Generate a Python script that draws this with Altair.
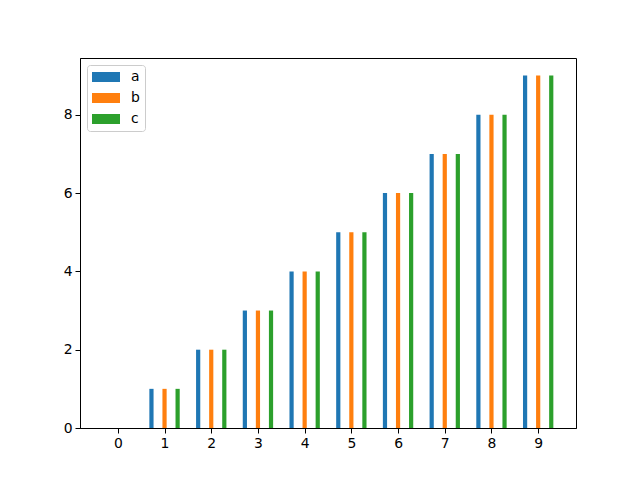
import altair as alt
import pandas as pd

positions = [0, 1, 2, 3, 4, 5, 6, 7, 8, 9]
series_a = [0, 1, 2, 3, 4, 5, 6, 7, 8, 9]
series_b = [0, 1, 2, 3, 4, 5, 6, 7, 8, 9]
series_c = [0, 1, 2, 3, 4, 5, 6, 7, 8, 9]
series_names = ["a", "b", "c"]
colors = ["#1f77b4", "#ff7f0e", "#2ca02c"]

# bar offset from the tick and half bar width, in x units
offsets = {"a": -0.28, "b": 0.0, "c": 0.28}
half_w = 0.045

rows = []
for name, vals in zip(series_names, [series_a, series_b, series_c]):
    for p, v in zip(positions, vals):
        rows.append({"pos": p, "value": v, "series": name,
                     "x1": p + offsets[name] - half_w,
                     "x2": p + offsets[name] + half_w})
source = pd.DataFrame(rows)

FONT = "DejaVu Sans"

chart = alt.Chart(source).mark_bar(strokeWidth=0).encode(
    x=alt.X(
        "x1:Q",
        scale=alt.Scale(domain=[-0.81, 9.81], nice=False, zero=False, padding=0),
        axis=alt.Axis(title=None, values=positions, format="d", grid=False,
                      tickSize=5, tickColor="black", domainColor="black",
                      labelFontSize=13.9, labelColor="black", labelPadding=3,
                      labelFont=FONT),
    ),
    x2="x2:Q",
    y=alt.Y(
        "value:Q",
        scale=alt.Scale(domain=[0, 9.45], nice=False, padding=0),
        axis=alt.Axis(title=None, values=[0, 2, 4, 6, 8], grid=False,
                      tickSize=5, tickColor="black", domainColor="black",
                      labelFontSize=13.9, labelColor="black", labelPadding=3,
                      labelFont=FONT),
    ),
    y2=alt.datum(0),
    color=alt.Color(
        "series:N",
        scale=alt.Scale(domain=series_names, range=colors),
        legend=alt.Legend(
            title=None, orient="none", legendX=7, legendY=7,
            symbolType="M-1,-0.357L1,-0.357L1,0.357L-1,0.357Z",
            symbolSize=784, symbolStrokeWidth=0, symbolOpacity=1,
            labelFont=FONT, labelFontSize=13.9, labelColor="black",
            labelOffset=11, rowPadding=7, clipHeight=14,
            strokeColor="#cccccc", fillColor="white", cornerRadius=3,
            padding=5,
        ),
    ),
).properties(
    width=496,
    height=370,
    autosize=alt.AutoSizeParams(type="none"),
    padding={"left": 72, "top": 50, "right": 56, "bottom": 44},
).configure_view(
    stroke="black", strokeWidth=1
)

chart.save("out.html", embed_options={"renderer": "svg", "actions": False})
